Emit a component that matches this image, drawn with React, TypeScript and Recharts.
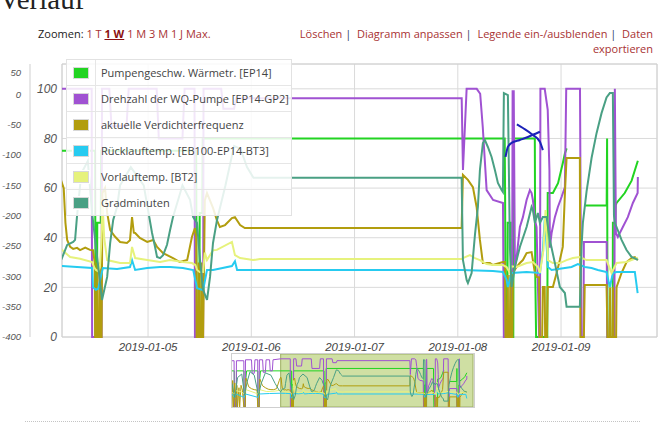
import { LineChart, Line, XAxis, YAxis, CartesianGrid, ReferenceArea } from "recharts";

type Pt = [number, number | null];

// hours since 2019-01-05 00:00
const dayTicks = [0, 24, 48, 72, 96];
const dayLabels = ["2019-01-05", "2019-01-06", "2019-01-07", "2019-01-08", "2019-01-09"];
const mainTicks = [0, 20, 40, 60, 80, 100];
const gradTicks = [-400, -350, -300, -250, -200, -150, -100, -50, 0, 50];
const viewRange = [-20, 118.3];
const fullRange = [-55, 119];

const pumpe: Pt[] = [
  [-55, 75], [-53.4, 75], [-53.3, 0], [-51.9, 0], [-51.8, 75], [-46.4, 75], [-46.3, 0], [-45.4, 0], [-45.3, 50], [-44.5, 75],
  [-36.4, 75], [-36.3, 0], [-35.4, 0], [-35.3, 50], [-34.5, 75],
  [-20, 75], [-12.3, 75], [-12.2, 0], [-11.9, 0], [-11.8, 46], [-11.0, 46], [-10.9, 75],
  [11.2, 75], [11.3, 0], [11.9, 0], [12.0, 50], [12.6, 50], [12.7, 80],
  [82.9, 80], [83.0, 55], [83.1, 0], [83.5, 0], [83.6, 46], [84.3, 46], [84.4, 0], [84.9, 0], [85.0, 80],
  [89.9, 80], [90.0, 26], [90.2, 0], [92.8, 0], [92.9, 58], [94.1, 58], [95.3, 62], [96.4, 70], [96.9, 74], [97.3, 76],
  [97.4, null], [101.3, null], [101.4, 53], [106.6, 53], [106.7, 80], [106.8, 0], [108.0, 0], [108.05, 46], [108.6, 46],
  [108.7, 53], [108.9, 54], [110.8, 58], [112.4, 63], [113.85, 71],
];

const drehzahl: Pt[] = [
  [-55, 96], [-53.5, 96], [-53.3, 0], [-52, 0], [-51.8, 96], [-46.5, 96], [-46.3, 0], [-45.5, 0], [-45.3, 98], [-41, 98],
  [-40.5, 70], [-39, 70], [-38.5, 98], [-36.5, 98], [-36.3, 0], [-35.5, 0], [-35.3, 98], [-33, 98], [-32.5, 72], [-31, 72],
  [-30.5, 98], [-28, 98], [-27.5, 75], [-26, 75], [-25.5, 98],
  [-20, 100], [-13.1, 100], [-13.0, 0], [-10.8, 0], [-10.7, 100], [-9, 100], [-8.5, 85], [-5, 85], [-4.5, 100], [2, 100],
  [2.5, 80], [8, 80], [8.5, 100], [10.8, 100], [10.9, 0], [12.8, 0], [12.9, 100], [17, 100], [17.5, 92], [20, 92], [20.5, 96.2],
  [72.9, 96.2], [73.2, 67.3], [74.05, 100], [76.4, 100], [77.2, 98], [77.8, 84.6], [78.7, 59.2], [80.2, 55.2], [82.5, 54],
  [82.7, 0], [84.6, 0], [84.74, 99], [85.0, 99], [85.27, 28.2], [85.66, 32], [86.43, 44.3], [87.13, 48.3], [87.99, 55.2],
  [88.75, 59.2], [89.15, 58], [89.45, 55.2], [89.92, 47.1], [90.31, 44.3], [90.9, 0], [91.1, 0], [91.2, 100], [92.2, 100],
  [92.9, 91.5], [93.3, 67], [93.4, 36], [93.8, 41.9], [94.56, 48.3], [95.26, 52.4], [96.12, 56.4], [96.89, 60.4], [97.2, 100],
  [100.4, 100], [100.7, 0], [101.2, 0], [101.3, 38.3], [106.6, 38.3], [106.75, 0], [108.4, 0], [108.5, 100], [108.75, 41.9],
  [109.2, 40.3], [110.36, 44.3], [111.52, 48.3], [112.69, 54], [113.8, 58], [113.85, 64.5],
];

const verdichter: Pt[] = [
  [-55, 0], [-54.5, 55], [-54, 0], [-53, 50], [-52.5, 0], [-51.5, 45], [-51, 0], [-50, 40], [-49.5, 0], [-48.5, 45],
  [-47.5, 35], [-46.5, 0], [-45.5, 0], [-45, 60], [-43, 42], [-41, 38], [-39, 36], [-37, 35], [-36.5, 0], [-35.5, 0],
  [-35, 58], [-33, 44], [-31, 40], [-29, 37], [-27, 36], [-25, 36], [-23, 38], [-21, 55],
  [-20, 62], [-19.6, 60], [-19.2, 46], [-18.8, 39.1], [-18.1, 36.3], [-17.4, 35.5], [-16.5, 35.9], [-15.8, 35], [-14.6, 36],
  [-13.5, 35.1], [-12.8, 35], [-12.4, 30], [-12.3, 0], [-11.9, 0], [-11.8, 30], [-11.7, 0], [-11.3, 0], [-11.2, 30], [-11.1, 0],
  [-10.8, 0], [-10.6, 58], [-10.0, 60], [-9.5, 50], [-8.8, 43.1], [-7.7, 40.5], [-6.5, 38.3], [-4.9, 37.9], [-4.2, 39],
  [-3.72, 48.3], [-3.3, 42], [-3.0, 41.9], [-1.9, 39.9], [-0.2, 38.3], [1.2, 39.1], [2.1, 36.3], [3.5, 33.8], [5.8, 31.8],
  [7.4, 30.2], [9.1, 31.0], [10.2, 40.3], [10.9, 43.9], [11.2, 40], [11.3, 0], [11.7, 0], [11.8, 30], [11.9, 0], [12.3, 0],
  [12.4, 30], [12.5, 0], [12.8, 0], [13.2, 55], [13.7, 58], [15.1, 52], [16.0, 47.1], [16.7, 44.3], [17.9, 45.1], [19.5, 47.9],
  [20.2, 48.3], [21.4, 45.1], [22.5, 43.9], [24.4, 43.9],
  [72.89, 43.9], [73.19, 65.3], [74.35, 63.3], [75.51, 60.4], [76.37, 52.4], [77.14, 39.1], [77.83, 29.8], [79.46, 29.8],
  [80.16, 29.0], [82.48, 30.2], [82.95, 30.2], [83.1, 0], [83.5, 0], [83.6, 25], [83.7, 0], [84.1, 0], [84.2, 25], [84.3, 0],
  [84.7, 0], [84.8, 25.8], [85.66, 28.2], [86.43, 29.8], [87.13, 31], [87.99, 33.8], [89.15, 34.2], [89.92, 25.8], [90.31, 24.2],
  [90.9, 24], [91.0, 0], [91.6, 0], [91.77, 20.1], [92.2, 20.1], [92.3, 0], [92.7, 0], [92.9, 20.1], [94.1, 20.1], [94.96, 25.8],
  [95.72, 31.0], [96.4, 36.3], [96.9, 58], [97.28, 72.1], [100.37, 72.1], [100.5, 0], [101.3, 0], [101.5, 21], [106.57, 21],
  [106.8, 0], [107.3, 0], [107.4, 20], [107.5, 0], [108.0, 0], [108.1, 20], [108.2, 0], [108.8, 0], [108.9, 20.1],
  [110.06, 25.8], [111.22, 30.2], [112.38, 31.8], [113.15, 32.2], [113.85, 31],
];

const ruecklauf: Pt[] = [
  [-55, 27], [-53.3, 20], [-52, 27], [-46.3, 20], [-45.3, 27], [-36.3, 20], [-35.3, 27], [-28, 28],
  [-20, 28.6], [-16.5, 28.2], [-13.0, 27.8], [-12.8, 20], [-12.1, 19], [-11.6, 19.5], [-10.5, 27.8], [-7.2, 27.4], [-4.2, 28.2],
  [-3.72, 31], [-3.0, 27.0], [-0.2, 27.8], [2.8, 28.2], [5.1, 28.2], [8.1, 27.8], [10.5, 27.0], [11.4, 19.7], [12.8, 18.9],
  [13.7, 27.0], [15.1, 27.0], [19.5, 28.6], [20.2, 30.5], [20.7, 27.0], [24.4, 27.0],
  [72.89, 27.0], [80.16, 26.6], [82.48, 26.2], [83.34, 23], [83.64, 20.1], [84.5, 25.8], [87.99, 26.2], [91.08, 25.8],
  [91.77, 35], [92.24, 48.3], [92.94, 28.2], [93.8, 27.0], [96.89, 27.8], [98.44, 28.2], [99.91, 29.4], [101.53, 28.2],
  [103.09, 27.8], [104.55, 27.0], [106.57, 26.2], [107.34, 20.1], [108.04, 25.8], [108.9, 26.2], [113.15, 26.2], [113.8, 17.7],
];

const vorlauf: Pt[] = [
  [-55, 30], [-53.3, 27], [-52, 34], [-48, 31], [-46.3, 27], [-45, 36], [-40, 31], [-36.3, 27], [-35, 36], [-30, 32], [-24, 33],
  [-20, 35.1], [-18.1, 32.2], [-15.8, 31.5], [-13.0, 30.2], [-12.5, 28], [-12.1, 27], [-11.6, 26.5], [-11.2, 28], [-10.8, 40],
  [-10.6, 55], [-10.2, 40], [-9.5, 31], [-6.5, 29.8], [-4.2, 29.8], [-3.72, 36.3], [-3.0, 31.8], [-0.2, 31.0], [2.8, 30.2],
  [5.1, 31.0], [8.1, 30.2], [10.2, 29.8], [11.0, 29], [11.4, 27.0], [12.0, 26.2], [12.8, 26.2], [13.2, 34], [13.7, 31],
  [15.1, 35], [16.0, 35.1], [19.5, 38.3], [20.2, 33], [21.4, 31.8], [24.4, 31.0], [26, 31.4],
  [72.89, 31.4], [73.19, 31.8], [74.81, 33], [75.98, 31.8], [77.14, 31.0], [78.69, 29.4], [80.16, 29.0], [82.48, 29.0],
  [83.34, 28.2], [84.11, 25.8], [84.5, 28.5], [85.66, 28.2], [87.99, 29.8], [89.45, 30.2], [90.61, 28.2], [91.08, 25.8],
  [91.9, 35], [92.4, 51.2], [92.94, 31.0], [94.1, 29.8], [95.72, 29.8], [97.28, 31.0], [98.75, 31.8], [100.37, 32.2],
  [101.93, 31.0], [106.57, 31.0], [107.74, 25.8], [108.9, 29.8], [111.22, 30.2], [113.55, 31.8], [113.85, 32],
];

// Gradminuten sits on the outer axis (-400 .. 50)
const gradminuten: Pt[] = [
  [-55, -200], [-53, -320], [-51, -150], [-48, -120], [-46, -300], [-44, -180], [-42, -100], [-39, -130], [-36, -300],
  [-34, -200], [-31, -110], [-27, -130], [-24, -200], [-21, -260],
  [-20, -269.8], [-18.8, -248.3], [-17.4, -243.4], [-16.96, -240], [-16.5, -200], [-15.5, -130], [-14, -110], [-13.0, -195.6],
  [-11.15, -311], [-10.7, -339], [-9.5, -301], [-8.8, -245], [-8.1, -207], [-7.2, -185.7], [-6.5, -150], [-4, -120], [-1, -150],
  [0.93, -228.6], [1.63, -251.6], [2.09, -268], [2.79, -270], [3.5, -265], [4.41, -248], [5.11, -224], [5.81, -202], [8, -150],
  [9.76, -174], [10.46, -202], [11.38, -212], [12.08, -273], [12.78, -322], [13.71, -339], [14.41, -301], [15.1, -245],
  [16.03, -207], [18, -150], [20, -85], [21.5, -90], [23, -120], [24.5, -137.4],
  [72.89, -137.4], [73.19, -273], [74.05, -306], [74.35, -311], [75.21, -294.5], [75.98, -232], [76.67, -185.7], [77.14, -124.7],
  [77.83, -80.2], [78.3, -75.3], [78.99, -86.8], [79.85, -103.3], [80.62, -124.7], [81.32, -146.1], [82.18, -157.7], [82.48, -161],
  [82.71, 2.2], [83.64, -1.1], [84.11, -251.6], [84.5, -317.6], [85.27, -284.6], [86.43, -251.6], [87.99, -218.7], [89.15, -185.7],
  [89.45, -190.7], [89.92, -212], [90.61, -195.6], [91.08, -212], [91.77, -202.2], [92.63, -202.2], [93.4, -240.1], [94.56, -278],
  [95.72, -317.6], [96.89, -327.5], [97.28, -350], [100.37, -350], [100.77, -250], [101.07, -212], [101.93, -160], [103.09, -105],
  [104.25, -64], [105.41, -31], [106.57, -5], [107.34, 2], [108.04, 2], [108.3, -200], [108.5, -212], [108.9, -218.7],
  [110.06, -240], [111.22, -256.6], [112.38, -268], [113.85, -273],
];

// hand-drawn blue marks on the screenshot
const scribbleA: Pt[] = [[83.1, 72.6], [83.64, 76.6], [84.5, 78.2], [86.43, 79.4], [88.29, 80.6], [91.08, 82.7]];
const scribbleB: Pt[] = [[85.73, 85.7], [87.13, 84.2], [89.45, 81.4], [91.08, 78.7], [91.77, 75.3]];

const series = [
  { name: "Pumpengeschw. Wärmetr. [EP14]", color: "#22d422", data: pumpe, axis: "p" },
  { name: "Drehzahl der WQ-Pumpe [EP14-GP2]", color: "#a052d2", data: drehzahl, axis: "p" },
  { name: "aktuelle Verdichterfrequenz", color: "#b29d0e", data: verdichter, axis: "p" },
  { name: "Rücklauftemp. [EB100-EP14-BT3]", color: "#26cbf0", data: ruecklauf, axis: "p" },
  { name: "Vorlauftemp. [BT2]", color: "#e6f27c", data: vorlauf, axis: "p" },
  { name: "Gradminuten", color: "#4aa084", data: gradminuten, axis: "s" },
];

const rows = (pts: Pt[]) => pts.map(([t, v]) => ({ t, v }));
const dayLabel = (t: number) => dayLabels[dayTicks.indexOf(t)] ?? "";

const UI = '"Open Sans", "DejaVu Sans", sans-serif';
const AX = '"Liberation Sans", Arial, sans-serif';
const LINK = "#a83232";

function SecTick(props: any) {
  const { x, y, payload } = props;
  const dy = payload.value === 50 ? 9 : 0;
  return (
    <text x={x} y={y + dy} dy="0.35em" textAnchor="end" fontSize={9.5} fontStyle="italic" fill="#555" fontFamily={AX}>
      {payload.value}
    </text>
  );
}

function LegendBox() {
  return (
    <div style={{ position: "absolute", left: 66, top: 59, width: 224, background: "rgba(255,255,255,0.86)", border: "1px solid #e2e2e2", fontFamily: UI, fontSize: 11, color: "#444" }}>
      {series.map((s, i) => (
        <div key={s.name} style={{ display: "flex", height: 25, borderTop: i ? "1px solid #e6e6e6" : "none" }}>
          <div style={{ width: 28, borderRight: "1px solid #e6e6e6", display: "flex", alignItems: "center", justifyContent: "center" }}>
            <div style={{ width: 14, height: 10, background: s.color, border: "1px solid #d8d8d8", outline: "1px solid #fff" }} />
          </div>
          <div style={{ paddingLeft: 5, lineHeight: "25px", whiteSpace: "nowrap" }}>{s.name}</div>
        </div>
      ))}
    </div>
  );
}

export default function App() {
  return (
    <div style={{ position: "absolute", left: 0, top: 0, width: 668, height: 439, overflow: "hidden", background: "#fff" }}>
      <div style={{ position: "absolute", left: -1, top: -15, fontFamily: '"Liberation Serif", serif', fontSize: 29, lineHeight: "29px", color: "#222" }}>Verlauf</div>

      <div style={{ position: "absolute", left: 38, top: 26, fontFamily: UI, fontSize: 11, color: "#222", whiteSpace: "nowrap" }}>
        Zoomen: <span style={{ color: LINK }}>1 T</span> <span style={{ color: "#8b1010", fontWeight: 700, textDecoration: "underline" }}>1 W</span>{" "}
        <span style={{ color: LINK }}>1 M</span> <span style={{ color: LINK }}>3 M</span> <span style={{ color: LINK }}>1 J</span>{" "}
        <span style={{ color: LINK }}>Max.</span>
      </div>
      <div style={{ position: "absolute", right: 15, top: 26, fontFamily: UI, fontSize: 11, lineHeight: "15px", textAlign: "right", color: "#1f3a66", whiteSpace: "nowrap" }}>
        <span style={{ color: LINK }}>Löschen</span> |&nbsp; <span style={{ color: LINK }}>Diagramm anpassen</span> |&nbsp;{" "}
        <span style={{ color: LINK }}>Legende ein-/ausblenden</span> |&nbsp; <span style={{ color: LINK }}>Daten</span>
        <br />
        <span style={{ color: LINK }}>exportieren</span>
      </div>

      <div style={{ position: "absolute", left: 0, top: 0 }}>
        <LineChart width={668} height={370} margin={{ top: 64, right: 11, bottom: 13, left: 0 }}>
          <CartesianGrid yAxisId="p" stroke="#dadada" />
          <XAxis dataKey="t" type="number" domain={viewRange} allowDataOverflow ticks={dayTicks} interval={0} tickFormatter={dayLabel}
            height={20} axisLine={false} tickLine={false} tickSize={0} tickMargin={6}
            tick={{ fontSize: 11.5, fontStyle: "italic", fill: "#444", fontFamily: AX }} />
          <YAxis yAxisId="p" domain={[0, 110]} ticks={mainTicks} interval={0} width={32} axisLine={false} tickLine={false}
            tickSize={0} tickMargin={5} tick={{ fontSize: 12, fontStyle: "italic", fill: "#555", fontFamily: AX }} />
          <YAxis yAxisId="s" domain={[-400, 50]} ticks={gradTicks} interval={0} width={30} axisLine={{ stroke: "#cfcfcf" }}
            tickLine={false} tickSize={6} tickMargin={3} tick={(p: any) => <SecTick {...p} />} />
          <ReferenceArea yAxisId="p" x1={viewRange[0]} x2={viewRange[1]} y1={0} y2={110} fill="none" stroke="#d0d0d0" />
          {series.map((s) => (
            <Line key={s.name} yAxisId={s.axis} data={rows(s.data)} dataKey="v" name={s.name} type="linear" stroke={s.color}
              strokeWidth={2} dot={false} activeDot={false} isAnimationActive={false} />
          ))}
          <Line yAxisId="p" data={rows(scribbleA)} dataKey="v" type="monotone" stroke="#1b22b8" strokeWidth={2} dot={false} activeDot={false} isAnimationActive={false} />
          <Line yAxisId="p" data={rows(scribbleB)} dataKey="v" type="monotone" stroke="#1b22b8" strokeWidth={2} dot={false} activeDot={false} isAnimationActive={false} />
        </LineChart>
      </div>

      <LegendBox />

      <div style={{ position: "absolute", left: 231, top: 353, width: 244, height: 55, border: "1px solid #cfcfcf", boxSizing: "border-box" }}>
        <LineChart width={242} height={53} margin={{ top: 0, right: 0, bottom: 0, left: 0 }}>
          <XAxis dataKey="t" type="number" domain={fullRange} allowDataOverflow hide />
          <YAxis yAxisId="p" domain={[0, 110]} hide />
          <YAxis yAxisId="s" domain={[-400, 50]} hide />
          {series.map((s) => (
            <Line key={s.name} yAxisId={s.axis} data={rows(s.data)} dataKey="v" type="linear" stroke={s.color}
              strokeWidth={1} dot={false} activeDot={false} isAnimationActive={false} />
          ))}
          <ReferenceArea yAxisId="p" x1={viewRange[0]} x2={viewRange[1]} y1={0} y2={110} fill="#a8c458" fillOpacity={0.55} stroke="#9caf62" />
        </LineChart>
      </div>

      <div style={{ position: "absolute", left: 25, top: 421, width: 615, borderTop: "1px dotted #c4c4c4" }} />
    </div>
  );
}
